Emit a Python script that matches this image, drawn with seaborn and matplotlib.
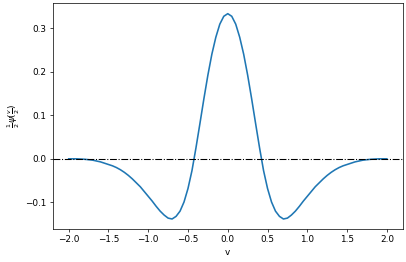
import numpy as np
import pandas as pd
import matplotlib
matplotlib.use("Agg")
import matplotlib.pyplot as plt
import seaborn as sns

# half of the curve (v >= 0); the curve is symmetric
v_half = [0.00, 0.05, 0.10, 0.15, 0.20, 0.25, 0.30, 0.35, 0.40, 0.45,
          0.50, 0.55, 0.60, 0.65, 0.70, 0.75, 0.80, 0.85, 0.90, 0.95,
          1.00, 1.05, 1.10, 1.15, 1.20, 1.25, 1.30, 1.35, 1.40, 1.45,
          1.50, 1.55, 1.60, 1.65, 1.70, 1.75, 1.80, 1.85, 1.90, 1.95, 2.00]
psi_half = [0.333, 0.327, 0.309, 0.279, 0.240, 0.192, 0.138, 0.081, 0.025, -0.027,
            -0.068, -0.099, -0.120, -0.132, -0.138, -0.136, -0.129, -0.120, -0.109, -0.097,
            -0.086, -0.075, -0.064, -0.055, -0.046, -0.038, -0.031, -0.025, -0.020, -0.016,
            -0.013, -0.010, -0.007, -0.005, -0.003, -0.002, -0.001, -0.0005, 0.0, 0.0, 0.0]

v = [-x for x in v_half[:0:-1]] + v_half
psi = psi_half[:0:-1] + psi_half
df = pd.DataFrame({"v": v, "psi": psi})

fig, ax = plt.subplots(figsize=(406 / 64, 262 / 64), dpi=64)
fig.subplots_adjust(left=0.130, right=0.992, top=0.987, bottom=0.125)

sns.lineplot(data=df, x="v", y="psi", ax=ax, color="#1f77b4", linewidth=1.8,
             sort=False, estimator=None)
ax.axhline(0, color="k", linestyle="-.", linewidth=1.2)

ax.set_xlabel("v")
ax.set_ylabel(r"$\frac{1}{2}\psi(\frac{v}{2})$")

fig.savefig("out.png", dpi=64)
